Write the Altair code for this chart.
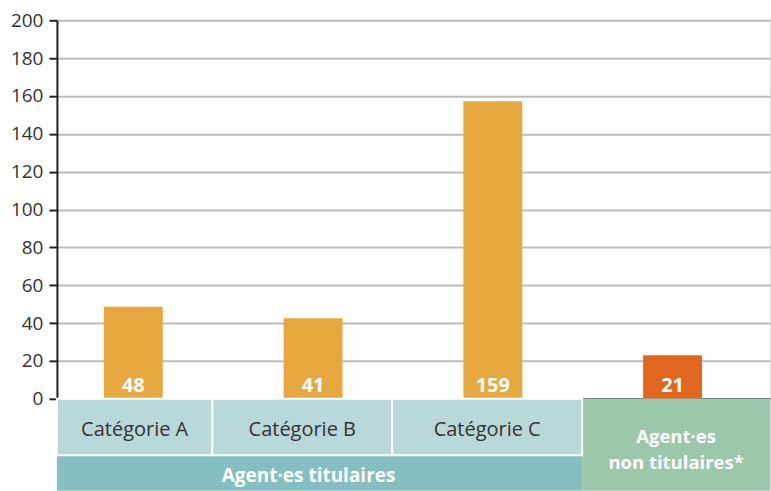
import altair as alt
import pandas as pd

# ---- data ----
categories = ["Catégorie A", "Catégorie B", "Catégorie C", "Agent·es non titulaires*"]
bar_heights = [48.7, 42.5, 157.2, 23.0]      # bar tops as drawn
bar_labels = ["48", "41", "159", "21"]       # printed values
bar_groups = ["titulaires", "titulaires", "titulaires", "non titulaires"]
y_ticks = [0, 20, 40, 60, 80, 100, 120, 140, 160, 180, 200]
cat_labels = ["Catégorie A", "Catégorie B", "Catégorie C"]
group_label = "Agent·es titulaires"
nt_label = "Agent·es\nnon titulaires*"

FONT = "Open Sans"
BAR_COLORS = ["#E8A840", "#E1661E"]
X_DOMAIN = [-0.425, 3.542]
# box edges in x-scale units (category slots)
box_edges = [-0.425, 0.44, 1.44, 2.497, 3.542]

bars = pd.DataFrame({
    "pos": list(range(len(categories))),
    "cat": categories,
    "height": bar_heights,
    "label": bar_labels,
    "group": bar_groups,
})

x_scale = alt.Scale(domain=X_DOMAIN, nice=False, zero=False, padding=0)
y_scale = alt.Scale(domain=[0, 200], nice=False, padding=0)
x_axis = alt.Axis(labels=False, ticks=False, grid=False, domain=True,
                  domainColor="#333333", domainWidth=2, title=None)
y_axis = alt.Axis(values=y_ticks, grid=True, gridColor="#BDBDBD", gridWidth=2,
                  domainColor="#222222", domainWidth=2, tickColor="#222222",
                  tickWidth=2, tickSize=8, labelFontSize=19, labelColor="#333333",
                  labelFont=FONT, labelPadding=6, labelOverlap=False, title=None)

bar_layer = alt.Chart(bars).mark_bar(size=59).encode(
    x=alt.X("pos:Q", scale=x_scale, axis=x_axis),
    y=alt.Y("height:Q", scale=y_scale, axis=y_axis),
    color=alt.Color("group:N", scale=alt.Scale(domain=["titulaires", "non titulaires"],
                                               range=BAR_COLORS), legend=None),
)
label_layer = alt.Chart(bars).mark_text(
    color="white", font=FONT, fontWeight="bold", fontSize=20,
    baseline="alphabetic", dy=-6.5,
).encode(
    x=alt.X("pos:Q", scale=x_scale, axis=x_axis),
    y=alt.Y(datum=0, scale=y_scale, axis=y_axis),
    text="label:N",
)

top = alt.layer(bar_layer, label_layer).properties(width=714, height=379)

# ---- bottom table of labels ----
cat_boxes = pd.DataFrame({
    "x0": box_edges[0:3], "x1": box_edges[1:4],
    "y0": [0.386] * 3, "y1": [1.0] * 3,
    "label": cat_labels,
})
cat_boxes["xm"] = (cat_boxes["x0"] + cat_boxes["x1"]) / 2
cat_boxes["ym"] = 0.66

grp_box = pd.DataFrame({"x0": [box_edges[0]], "x1": [box_edges[3]], "y0": [0.0], "y1": [0.386],
                        "label": [group_label]})
grp_box["xm"] = (grp_box["x0"] + grp_box["x1"]) / 2
grp_box["ym"] = 0.165

nt_box = pd.DataFrame({"x0": [box_edges[3]], "x1": [box_edges[4]], "y0": [0.0], "y1": [1.0],
                       "label": [nt_label]})
nt_box["xm"] = (nt_box["x0"] + nt_box["x1"]) / 2
nt_box["ym"] = 0.58

bx = alt.X("x0:Q", scale=x_scale, axis=None)
by = alt.Y("y0:Q", scale=alt.Scale(domain=[0, 1], nice=False, padding=0), axis=None)
tx = alt.X("xm:Q", scale=x_scale, axis=None)
ty = alt.Y("ym:Q", scale=alt.Scale(domain=[0, 1], nice=False, padding=0), axis=None)

cat_rect = alt.Chart(cat_boxes).mark_rect(color="#B8D8DA", stroke="white", strokeWidth=2).encode(
    x=bx, x2="x1:Q", y=by, y2="y1:Q")
grp_rect = alt.Chart(grp_box).mark_rect(color="#85BFC1").encode(
    x=bx, x2="x1:Q", y=by, y2="y1:Q")
nt_rect = alt.Chart(nt_box).mark_rect(color="#9BC8A9").encode(
    x=bx, x2="x1:Q", y=by, y2="y1:Q")

cat_text = alt.Chart(cat_boxes).mark_text(
    font=FONT, fontSize=20, color="#333333", baseline="middle").encode(x=tx, y=ty, text="label:N")
grp_text = alt.Chart(grp_box).mark_text(
    font=FONT, fontSize=19, fontWeight="bold", color="white", baseline="middle", dx=-11
).encode(x=tx, y=ty, text="label:N")
nt_text = alt.Chart(nt_box).mark_text(
    font=FONT, fontSize=18.5, fontWeight="bold", color="white", baseline="middle",
    lineBreak="\n", lineHeight=26).encode(x=tx, y=ty, text="label:N")

bottom = alt.layer(grp_rect, nt_rect, cat_rect, cat_text, grp_text, nt_text).properties(
    width=714, height=92)

chart = alt.vconcat(top, bottom, spacing=0, bounds="flush").properties(
    padding={"left": 9, "top": 10, "right": 0, "bottom": 0}
).configure_view(stroke=None).configure(background="white")

chart.save("out.html", embed_options={"renderer": "svg", "actions": False})
